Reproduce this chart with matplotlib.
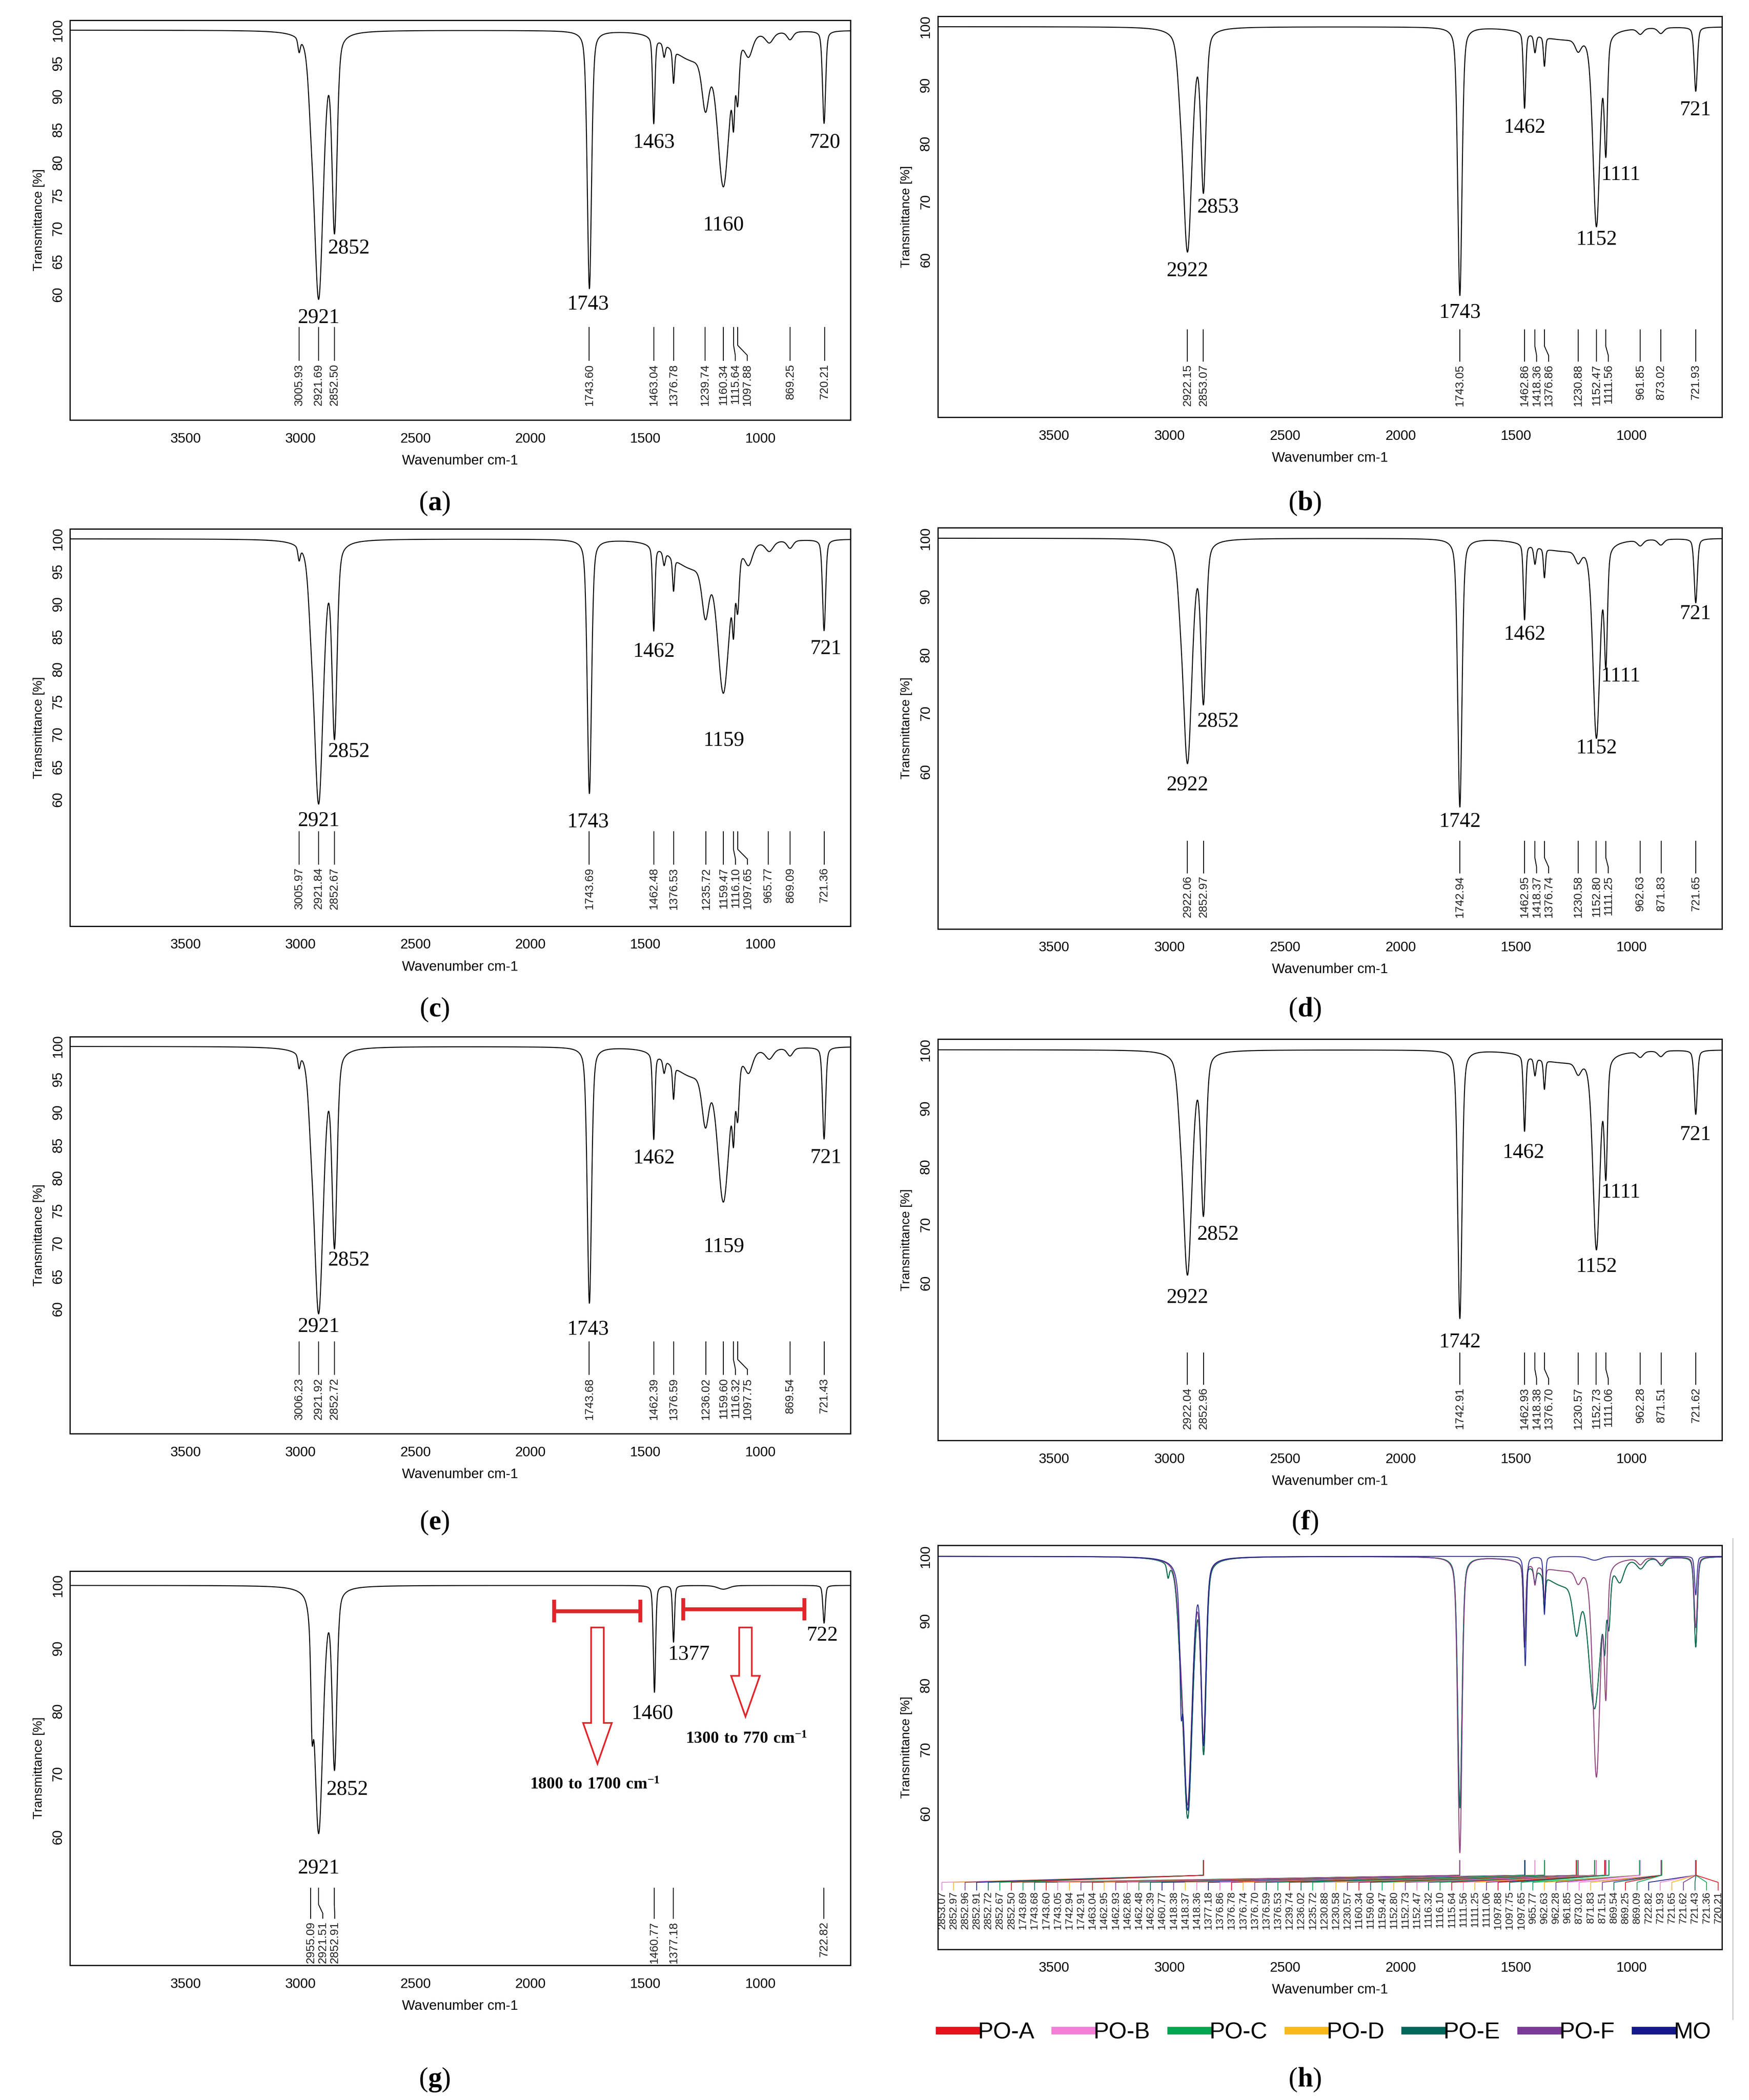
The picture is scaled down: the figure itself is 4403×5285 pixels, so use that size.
import numpy as np
import matplotlib
matplotlib.use("Agg")
import matplotlib.pyplot as plt
from matplotlib.lines import Line2D
from matplotlib.patches import FancyArrow

plt.rcParams['font.family'] = ['Liberation Sans', 'DejaVu Sans']
plt.rcParams['mathtext.fontset'] = 'custom'
plt.rcParams['mathtext.bf'] = 'Liberation Serif:bold'
plt.rcParams['mathtext.rm'] = 'Liberation Serif'
SERIF = ['Liberation Serif', 'DejaVu Serif']

# ---------------- data: absorption bands (center cm-1, depth %T, half width) -------------
A_centers = [3006, 2955, 2921, 2852, 1743, 1463, 1418, 1377, 1300, 1238, 1160, 1116, 1098, 1050, 960, 870, 722]
A_depths  = [2.0, 5.0, 40.0, 29.0, 39.0, 13.0, 2.0, 5.0, 4.0, 8.0, 22.0, 8.0, 8.0, 3.0, 1.5, 1.2, 14.0]
A_widths  = [6, 14, 24, 13, 11, 6, 6, 5, 110, 18, 30, 6, 8, 20, 20, 15, 8]

B_centers = [2955, 2922, 2853, 1743, 1463, 1418, 1377, 1300, 1231, 1152, 1111, 962, 873, 722]
B_depths  = [4.0, 38.0, 27.0, 46.0, 13.0, 3.0, 5.0, 2.0, 2.0, 33.0, 19.0, 1.0, 1.0, 11.0]
B_widths  = [14, 23, 13, 11, 6, 6, 5, 150, 15, 18, 8, 15, 15, 8]

MO_centers = [2950, 2921, 2852, 1460, 1377, 1160, 722]
MO_depths  = [12.0, 39.0, 28.0, 17.0, 9.0, 0.6, 6.0]
MO_widths  = [6, 22, 12, 6, 5, 30, 6]

# peak marker labels
a_marks = [3005.93, 2921.69, 2852.50, 1743.60, 1463.04, 1376.78, 1239.74, 1160.34, 1115.64, 1097.88, 869.25, 720.21]
b_marks = [2922.15, 2853.07, 1743.05, 1462.86, 1418.36, 1376.86, 1230.88, 1152.47, 1111.56, 961.85, 873.02, 721.93]
c_marks = [3005.97, 2921.84, 2852.67, 1743.69, 1462.48, 1376.53, 1235.72, 1159.47, 1116.10, 1097.65, 965.77, 869.09, 721.36]
d_marks = [2922.06, 2852.97, 1742.94, 1462.95, 1418.37, 1376.74, 1230.58, 1152.80, 1111.25, 962.63, 871.83, 721.65]
e_marks = [3006.23, 2921.92, 2852.72, 1743.68, 1462.39, 1376.59, 1236.02, 1159.60, 1116.32, 1097.75, 869.54, 721.43]
f_marks = [2922.04, 2852.96, 1742.91, 1462.93, 1418.38, 1376.70, 1230.57, 1152.73, 1111.06, 962.28, 871.51, 721.62]
g_marks = [2955.09, 2921.51, 2852.91, 1460.77, 1377.18, 722.82]

# big peak labels (text, x, y)
a_big = [("2921", 2921, 56.5), ("2852", 2790, 67), ("1743", 1750, 58.5), ("1463", 1463, 83), ("1160", 1160, 70.5), ("720", 720, 83)]
c_big = [("2921", 2921, 56.7), ("2852", 2790, 67.3), ("1743", 1750, 56.5), ("1462", 1462, 82.7), ("1159", 1159, 69), ("721", 715, 83.1)]
e_big = [("2921", 2921, 57.3), ("2852", 2790, 67.4), ("1743", 1750, 56.9), ("1462", 1462, 83), ("1159", 1159, 69.5), ("721", 715, 83)]
b_big = [("2922", 2922, 58.1), ("2853", 2789, 69), ("1743", 1743, 51), ("1462", 1462, 82.7), ("1111", 1047, 74.6), ("1152", 1151, 63.5), ("721", 723, 85.7)]
d_big = [("2922", 2922, 57.7), ("2852", 2789, 68.6), ("1742", 1743, 51.4), ("1462", 1462, 83.5), ("1111", 1047, 76.3), ("1152", 1151, 64), ("721", 723, 87)]
f_big = [("2922", 2922, 57.5), ("2852", 2789, 68.3), ("1742", 1743, 49.8), ("1462", 1468, 82.4), ("1111", 1047, 75.5), ("1152", 1151, 62.8), ("721", 723, 85.4)]
g_big = [("2921", 2921, 55), ("2852", 2797, 67.5), ("1460", 1470, 79.6), ("1377", 1310, 89), ("722", 730, 92)]

samples = ["PO-A", "PO-B", "PO-C", "PO-D", "PO-E", "PO-F", "MO"]
sample_colors = ["#e3121b", "#f27fd8", "#00a651", "#f9b91a", "#00695c", "#7b3a96", "#141a8c"]

x = np.linspace(4010, 600, 6000)


def spectrum(centers, depths, widths):
    t = np.full_like(x, 100.0)
    for c, d, w in zip(centers, depths, widths):
        r = (x - c) / w
        t -= d * (0.4 / (1 + r * r) + 0.6 * np.exp(-np.log(2) * r * r))
    return t


specA = spectrum(A_centers, A_depths, A_widths)
specB = spectrum(B_centers, B_depths, B_widths)
specMO = spectrum(MO_centers, MO_depths, MO_widths)

W, H = 1300.0, 1560.0
fig = plt.figure(figsize=(44.03, 52.85), dpi=100)


def ax_at(l, r, t, b):
    return fig.add_axes([l / W, 1 - b / H, (r - l) / W, (b - t) / H])


def style(ax, ylim, yticks):
    ax.set_xlim(4003, 608)
    ax.set_ylim(*ylim)
    ax.set_xticks([3500, 3000, 2500, 2000, 1500, 1000])
    ax.set_yticks(yticks)
    ax.tick_params(axis='x', labelsize=25, length=0, pad=22)
    ax.tick_params(axis='y', labelsize=25, length=0, pad=10, labelrotation=90)
    for lab in ax.get_yticklabels():
        lab.set_va('center')
    ax.set_xlabel("Wavenumber cm-1", fontsize=25, labelpad=16)
    ax.set_ylabel("Transmittance [%]", fontsize=23, labelpad=12)
    for s in ax.spines.values():
        s.set_linewidth(2.2)


def markers(ax, marks, top, bend, bend2, bot, color='black', sep=52):
    prev = None
    for m in marks:
        pos = m if prev is None else min(m, prev - sep)
        prev = pos
        ax.plot([m, m, pos, pos], [top, bend, bend2, bot], color=color, lw=1.6)
        ax.text(pos, bot - 0.5, f"{m:.2f}", rotation=90, ha='center', va='top', fontsize=21, color='#222222')


def big(ax, labels):
    for t, xx, yy in labels:
        ax.text(xx, yy, t, fontsize=38, family=SERIF, ha='center', va='center')


def panel_label(xd, yd, letter):
    fig.text(xd / W, 1 - yd / H, r"($\mathbf{" + letter + r"}$)", fontsize=50, family=SERIF,
             ha='center', va='center')


cfg = [
    ((52, 632, 15, 312), specA, a_big, a_marks, (41, 101.5), range(60, 101, 5), (55, 52.3, 50.8, 50), 'a', (323, 374)),
    ((697, 1280, 12, 310), specB, b_big, b_marks, (33, 101.8), range(60, 101, 10), (48, 45.2, 43.6, 42.6), 'b', (970, 374)),
    ((52, 632, 393, 688), specA, c_big, c_marks, (40.5, 101.5), range(60, 101, 5), (55, 52.3, 50.8, 50), 'c', (323, 750)),
    ((697, 1280, 392, 690), specB, d_big, d_marks, (33, 101.8), range(60, 101, 10), (48, 45.2, 43.6, 42.6), 'd', (970, 750)),
    ((52, 632, 770, 1065), specA, e_big, e_marks, (41, 101.5), range(60, 101, 5), (55, 52.3, 50.8, 50), 'e', (323, 1131)),
    ((697, 1280, 772, 1070), specB, f_big, f_marks, (33, 101.8), range(60, 101, 10), (48, 45.2, 43.6, 42.6), 'f', (970, 1131)),
    ((52, 632, 1167, 1460), specMO, g_big, g_marks, (39.5, 102.3), range(60, 101, 10), (51.8, 49.2, 47.8, 47), 'g', (323, 1545)),
]

axes = {}
for box, spec, bl, mk, yl, yt, mp, letter, plab in cfg:
    ax = ax_at(*box)
    ax.plot(x, spec, color='black', lw=1.8)
    style(ax, yl, list(yt))
    big(ax, bl)
    markers(ax, mk, *mp)
    panel_label(*plab, letter)
    axes[letter] = ax

# annotations in (g)
axg = axes['g']
red = '#e0262b'
for x0, x1, yb in [(1896, 1521, 95.9), (1334, 807, 96.2)]:
    axg.plot([x0, x1], [yb, yb], color=red, lw=7, solid_capstyle='butt')
    for xx in (x0, x1):
        axg.plot([xx, xx], [yb - 1.8, yb + 1.8], color=red, lw=7, solid_capstyle='butt')
for xc, y0, y1 in [(1708, 93.3, 71.6), (1064, 93.3, 79.1)]:
    axg.add_patch(FancyArrow(xc, y0, 0, y1 - y0, width=55, head_width=125, head_length=6.5,
                             length_includes_head=True, facecolor='white', edgecolor=red, lw=3))
axg.text(1720, 68.3, r"$\mathbf{1800\ to\ 1700\ cm^{-1}}$", fontsize=30, ha='center', va='center')
axg.text(1060, 75.6, r"$\mathbf{1300\ to\ 770\ cm^{-1}}$", fontsize=30, ha='center', va='center')

# ---------------- panel (h): overlay ----------------
axh = ax_at(697, 1280, 1148, 1448)
all_specs = [specA, specB, specA, specB, specA, specB, specMO]
all_marks = [a_marks, b_marks, c_marks, d_marks, e_marks, f_marks, g_marks]
for spec, col in zip(all_specs, sample_colors):
    axh.plot(x, spec, color=col, lw=1.6, alpha=0.9)
style(axh, (38.9, 101.7), [60, 70, 80, 90, 100])
entries = []
for marks, col in zip(all_marks, sample_colors):
    for m in marks:
        if m < 2900:
            entries.append((m, col))
entries.sort(key=lambda e: -e[0])
slots = np.linspace(3985, 625, len(entries))
for (m, col), sx in zip(entries, slots):
    axh.plot([m, m, sx, sx], [52.7, 50.4, 49.3, 48.1], color=col, lw=1.4)
    axh.text(sx, 47.9, f"{m:.2f}", rotation=90, ha='center', va='top', fontsize=19, color='#222222')
handles = [Line2D([0], [0], color=c, lw=14) for c in sample_colors]
fig.legend(handles, samples, loc='center', bbox_to_anchor=(985 / W, 1 - 1510 / H), ncol=7,
           frameon=False, fontsize=42, handlelength=1.6, handletextpad=0.05, columnspacing=0.9)
panel_label(970, 1545, 'h')
fig.add_artist(Line2D([1288 / W, 1288 / W], [1 - 1143 / H, 1 - 1500 / H], color='#cccccc', lw=2))

fig.savefig("out.png", dpi=100)
